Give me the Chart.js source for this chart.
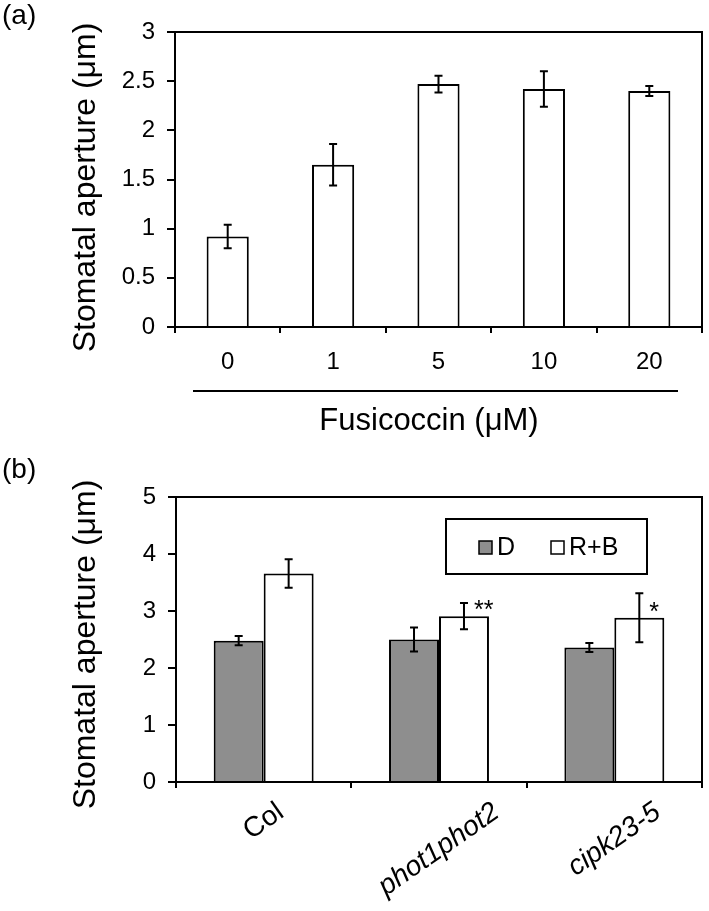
<!DOCTYPE html>
<html>
<head>
<meta charset="utf-8">
<script src="https://cdn.jsdelivr.net/npm/chart.js@4.4.1/dist/chart.umd.min.js"></script>
<style>
    html, body { margin: 0; padding: 0; background: #fff; }
    body { width: 709px; height: 911px; position: relative; overflow: hidden; }
    #chart-a { position: absolute; left: 0; top: 0; }
    #chart-b { position: absolute; left: 0; top: 445px; }
</style>
</head>
<body>
<canvas id="chart-a" width="709" height="445"></canvas>
<canvas id="chart-b" width="709" height="466"></canvas>
<script>
// 数据 (a)
const doseLabels = ['0', '1', '5', '10', '20'];
const apertureA = [0.92, 1.65, 2.47, 2.42, 2.40];
const errorA = [0.12, 0.21, 0.085, 0.18, 0.05];
const yTicksA = ['0', '0.5', '1', '1.5', '2', '2.5', '3'];

// 数据 (b)
const genotypeLabels = ['Col', 'phot1phot2', 'cipk23-5'];
const genotypeItalic = [false, true, true];
const apertureD = [2.48, 2.50, 2.36];
const errorD = [0.08, 0.21, 0.08];
const apertureRB = [3.66, 2.91, 2.88];
const errorRB = [0.25, 0.23, 0.43];
const sigRB = ['', '**', '*'];
const yTicksB = ['0', '1', '2', '3', '4', '5'];
const seriesNames = ['D', 'R+B'];

const FONT = "'Liberation Sans', Arial, sans-serif";
Chart.defaults.font.family = FONT;
Chart.defaults.color = '#000';
Chart.defaults.animation = false;

// 误差线
const errorBarPlugin = {
    id: 'errorBars',
    afterDatasetsDraw(chart, args, opts) {
        const ctx = chart.ctx;
        const yScale = chart.scales.y;
        ctx.save();
        ctx.strokeStyle = '#000';
        ctx.lineWidth = 2;
        chart.data.datasets.forEach((ds, di) => {
            const meta = chart.getDatasetMeta(di);
            meta.data.forEach((bar, i) => {
                const v = ds.data[i];
                const e = ds.errors[i];
                const yHi = yScale.getPixelForValue(v + e);
                const yLo = yScale.getPixelForValue(v - e);
                ctx.beginPath();
                ctx.moveTo(bar.x, yHi);
                ctx.lineTo(bar.x, yLo);
                ctx.moveTo(bar.x - 4, yHi);
                ctx.lineTo(bar.x + 4, yHi);
                ctx.moveTo(bar.x - 4, yLo);
                ctx.lineTo(bar.x + 4, yLo);
                ctx.stroke();
            });
        });
        ctx.restore();
    }
};

// 边框 + 面板标签 + 纵轴标题
const framePlugin = {
    id: 'frame',
    afterDraw(chart, args, opts) {
        const ctx = chart.ctx;
        const a = chart.chartArea;
        ctx.save();
        ctx.strokeStyle = '#000';
        ctx.lineWidth = 2;
        ctx.beginPath();
        ctx.moveTo(a.left - 8, a.top);
        ctx.lineTo(a.right, a.top);
        ctx.lineTo(a.right, a.bottom);
        ctx.stroke();

        ctx.fillStyle = '#000';
        ctx.font = '28px ' + FONT;
        ctx.textAlign = 'left';
        ctx.textBaseline = 'middle';
        ctx.fillText(opts.panel, 2, opts.panelY);

        ctx.translate(86, (a.top + a.bottom) / 2 + opts.titleShift);
        ctx.rotate(-Math.PI / 2);
        ctx.textAlign = 'center';
        ctx.font = '32px ' + FONT;
        ctx.fillText('Stomatal aperture (μm)', 0, 0);
        ctx.restore();
    }
};

// (a) 横轴下方的分隔线和标题
const doseTitlePlugin = {
    id: 'doseTitle',
    afterDraw(chart) {
        const ctx = chart.ctx;
        ctx.save();
        ctx.strokeStyle = '#000';
        ctx.lineWidth = 2;
        ctx.beginPath();
        ctx.moveTo(193, 391);
        ctx.lineTo(678, 391);
        ctx.stroke();
        ctx.fillStyle = '#000';
        ctx.font = '31px ' + FONT;
        ctx.textAlign = 'center';
        ctx.textBaseline = 'middle';
        ctx.fillText('Fusicoccin (μM)', 429, 421);
        ctx.restore();
    }
};

// (b) 倾斜的类别标签、显著性标记、图例
const genotypePlugin = {
    id: 'genotype',
    afterDraw(chart) {
        const ctx = chart.ctx;
        const xScale = chart.scales.x;
        const a = chart.chartArea;
        const ang = 35 * Math.PI / 180;
        ctx.save();
        ctx.fillStyle = '#000';
        ctx.textAlign = 'center';
        ctx.textBaseline = 'middle';
        genotypeLabels.forEach((lab, i) => {
            ctx.font = (genotypeItalic[i] ? 'italic ' : '') + '28px ' + FONT;
            const w = ctx.measureText(lab).width;
            const x = xScale.getPixelForValue(i);
            const y = a.bottom + 16 + (w / 2) * Math.sin(ang) + 14 * Math.cos(ang);
            ctx.save();
            ctx.translate(x, y);
            ctx.rotate(-ang);
            ctx.fillText(lab, 0, 0);
            ctx.restore();
        });

        // 显著性
        const meta = chart.getDatasetMeta(1);
        ctx.font = '25px ' + FONT;
        ctx.textAlign = 'left';
        ctx.textBaseline = 'alphabetic';
        meta.data.forEach((bar, i) => {
            if (sigRB[i]) ctx.fillText(sigRB[i], bar.x + 10, bar.y + 2);
        });

        // 图例
        ctx.strokeStyle = '#000';
        ctx.lineWidth = 2;
        ctx.strokeRect(446, 74, 201, 55);
        const items = [
            { x: 479, text: seriesNames[0], fill: chart.data.datasets[0].backgroundColor },
            { x: 551, text: seriesNames[1], fill: chart.data.datasets[1].backgroundColor }
        ];
        ctx.font = '25px ' + FONT;
        ctx.textBaseline = 'middle';
        items.forEach(it => {
            ctx.fillStyle = it.fill;
            ctx.fillRect(it.x, 96, 13, 13);
            ctx.lineWidth = 1.5;
            ctx.strokeRect(it.x, 96, 13, 13);
            ctx.fillStyle = '#000';
            ctx.fillText(it.text, it.x + 18, 103);
        });
        ctx.restore();
    }
};

function yScaleOptions(max, step, tickLabels, width) {
    return {
        min: 0,
        max: max,
        afterFit: s => { s.width = width; },
        ticks: {
            stepSize: step,
            padding: 12,
            font: { size: 24 },
            callback: (v, i) => tickLabels[i]
        },
        grid: { drawOnChartArea: false, drawTicks: true, tickLength: 8, color: '#000', lineWidth: 2 },
        border: { display: true, color: '#000', width: 2 }
    };
}

// 图 (a)
new Chart(document.getElementById('chart-a'), {
    type: 'bar',
    data: {
        labels: doseLabels,
        datasets: [{
            data: apertureA,
            errors: errorA,
            backgroundColor: '#ffffff',
            borderColor: '#000',
            borderWidth: 2,
            categoryPercentage: 0.40,
            barPercentage: 1
        }]
    },
    options: {
        responsive: false,
        layout: { padding: { left: 0, top: 32, right: 7, bottom: 0 } },
        plugins: {
            legend: { display: false },
            tooltip: { enabled: false },
            frame: { panel: '(a)', panelY: 16, titleShift: 8 }
        },
        scales: {
            x: {
                afterFit: s => { s.height = 445 - 32 - 295; },
                ticks: { padding: 15, font: { size: 24 } },
                grid: { drawOnChartArea: false, drawTicks: true, tickLength: 6, color: '#000', lineWidth: 2, offset: true },
                border: { display: true, color: '#000', width: 2 }
            },
            y: yScaleOptions(3, 0.5, yTicksA, 175)
        }
    },
    plugins: [errorBarPlugin, framePlugin, doseTitlePlugin]
});

// 图 (b)
new Chart(document.getElementById('chart-b'), {
    type: 'bar',
    data: {
        labels: genotypeLabels,
        datasets: [{
            label: seriesNames[0],
            data: apertureD,
            errors: errorD,
            backgroundColor: '#8e8e8e',
            borderColor: '#000',
            borderWidth: 2,
            categoryPercentage: 0.57,
            barPercentage: 1
        }, {
            label: seriesNames[1],
            data: apertureRB,
            errors: errorRB,
            backgroundColor: '#ffffff',
            borderColor: '#000',
            borderWidth: 2,
            categoryPercentage: 0.57,
            barPercentage: 1
        }]
    },
    options: {
        responsive: false,
        layout: { padding: { left: 0, top: 52, right: 7, bottom: 0 } },
        plugins: {
            legend: { display: false },
            tooltip: { enabled: false },
            frame: { panel: '(b)', panelY: 25, titleShift: 5 }
        },
        scales: {
            x: {
                afterFit: s => { s.height = 466 - 52 - 285; },
                ticks: { display: false },
                grid: { drawOnChartArea: false, drawTicks: true, tickLength: 6, color: '#000', lineWidth: 2, offset: true },
                border: { display: true, color: '#000', width: 2 }
            },
            y: yScaleOptions(5, 1, yTicksB, 176)
        }
    },
    plugins: [errorBarPlugin, framePlugin, genotypePlugin]
});
</script>
</body>
</html>
